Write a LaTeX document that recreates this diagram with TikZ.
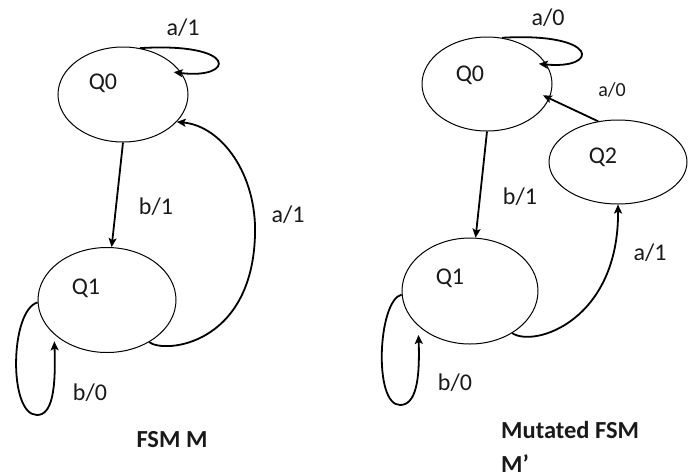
\documentclass[tikz,border=0pt]{standalone}
\usepackage{fontspec}
\setmainfont{Carlito}
\usetikzlibrary{shapes.geometric,arrows.meta}
\tikzset{
  state/.style={draw, ellipse, line width=1pt, inner sep=0pt},
  lbl/.style={font=\fontsize{24}{28}\selectfont, text=black!90, inner sep=0pt},
  smalllbl/.style={font=\fontsize{20}{24}\selectfont, text=black!90, inner sep=0pt},
  title/.style={font=\fontsize{24.5}{29}\selectfont\bfseries, text=black!90, inner sep=0pt, anchor=west},
  trans/.style={line width=1.8pt, -{Stealth[length=9pt,width=8pt,inset=2pt]}},
}
\begin{document}
\begin{tikzpicture}[x=1pt,y=-1pt]
\useasboundingbox (0,0) rectangle (689,475);

% ---------- FSM M ----------
\node[state, minimum width=130pt, minimum height=95pt]  (L0) at (123,94.5) {};
\node[state, minimum width=138pt, minimum height=105pt] (L1) at (107,300) {};
\node[lbl] (L0t) at (103,83) {Q0};
\node[lbl] (L1t) at (86,288) {Q1};

% self-loop on Q0
\draw[trans, shorten >=-8pt] (L0.70) .. controls (240,42) and (235,80) .. (L0.20);
\node[lbl] (L0aa) at (183,28) {a/1};

% Q0 -> Q1
\draw[trans] (L0.south) -- (L1.85);
\node[lbl] (Lb) at (156,207) {b/1};

% Q1 -> Q0 (outer arc)
\draw[trans] (L1.-45) .. controls (165,354) and (252,345) .. (255,235)
  .. controls (257,175) and (222,126) .. (L0.-27);
\node[lbl] (La) at (288,215) {a/1};

% self-loop on Q1
\draw[trans, shorten >=7pt] (L1.182) .. controls (10,310) and (8,415) .. (37,415)
  .. controls (52,415) and (56,390) .. (L1.213.6);
\node[lbl] (Lbb) at (90,393) {b/0};

\node[title, anchor=center] (Ltitle) at (172,440) {FSM M};

% ---------- Mutated FSM M' ----------
\node[state, minimum width=130pt, minimum height=94pt]  (R0) at (487,84) {};
\node[state, minimum width=138pt, minimum height=84pt]  (R2) at (618,162) {};
\node[state, minimum width=136pt, minimum height=106pt] (R1) at (470,291) {};
\node[lbl] (R0t) at (470,75) {Q0};
\node[lbl] (R2t) at (603,157) {Q2};
\node[lbl] (R1t) at (450,278) {Q1};

% self-loop on Q0
\draw[trans, shorten >=-8pt] (R0.72) .. controls (600,32) and (600,70) .. (R0.18.4);
\node[lbl] (R0aa) at (548,18) {a/0};

% Q2 -> Q0
\draw[trans, shorten >=-7pt] (R2.116.6) -- (R0.-13.3);
\node[smalllbl] (R2a) at (612,90) {a/0};

% Q0 -> Q1
\draw[trans] (R0.south) -- (R1.84);
\node[lbl] (Rb) at (520,197) {b/1};

% Q1 -> Q2
\draw[trans] (R1.-45) .. controls (535,348) and (619,320) .. (R2.south);
\node[lbl] (Ra) at (650,253) {a/1};

% self-loop on Q1
\draw[trans, shorten >=9pt] (R1.183) .. controls (378,300) and (373,405) .. (400,405)
  .. controls (416,405) and (420,380) .. (R1.214.5);
\node[lbl] (Rbb) at (455,383) {b/0};

\node[title] (Rtitle1) at (501,430) {Mutated FSM};
\node[title] (Rtitle2) at (501,464) {M’};
\end{tikzpicture}
\end{document}
